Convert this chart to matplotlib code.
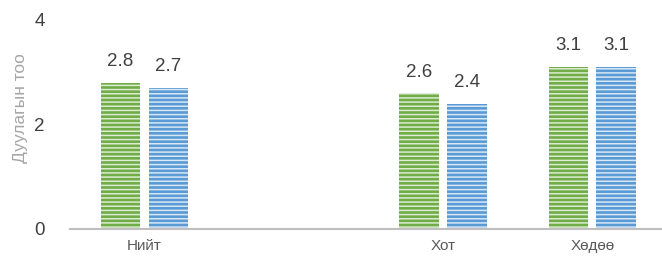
import matplotlib.pyplot as plt
import numpy as np

plt.rcParams['font.family'] = ['Liberation Sans', 'DejaVu Sans']
plt.rcParams['hatch.linewidth'] = 1.1

# data
categories = ['Нийт', '', 'Хот', 'Хөдөө']
series_a = [2.8, np.nan, 2.6, 3.1]
series_b = [2.7, np.nan, 2.4, 3.1]
y_ticks = [0, 2, 4]

fig = plt.figure(figsize=(6.62, 2.59), dpi=100)
ax = fig.add_axes([0.1055, 0.116, 0.902, 0.807])

x = np.arange(len(categories))
w = 0.265
off = 0.16

bars_a = ax.bar(x - off, series_a, w, color='#70AD47', edgecolor='#DCEBD2',
                hatch='----', linewidth=0)
bars_b = ax.bar(x + off, series_b, w, color='#5B9BD5', edgecolor='#D8E7F5',
                hatch='----', linewidth=0)

for bars, vals in [(bars_a, series_a), (bars_b, series_b)]:
    for b, v in zip(bars, vals):
        if np.isnan(v):
            continue
        ax.annotate(f'{v:.1f}', (b.get_x() + b.get_width() / 2, v),
                    xytext=(0, 9), textcoords='offset points',
                    ha='center', va='bottom', fontsize=13.5, color='#404040')

ax.set_xlim(-0.5, 3.5)
ax.set_ylim(0, 4)
ax.set_xticks(x)
ax.set_xticklabels(categories, fontsize=11, color='#595959')
ax.set_yticks(y_ticks)
ax.set_yticklabels([str(t) for t in y_ticks], fontsize=13.5, color='#404040')
ax.tick_params(axis='both', length=0)
ax.tick_params(axis='y', pad=18)
ax.tick_params(axis='x', pad=7)

for s in ['top', 'right', 'left']:
    ax.spines[s].set_visible(False)
ax.spines['bottom'].set_color('#BFBFBF')
ax.spines['bottom'].set_linewidth(1.5)

ax.set_ylabel('Дуулагын тоо', fontsize=12.5, color='#A6A6A6')
ax.yaxis.set_label_coords(-0.07, 0.58)

fig.savefig('out.png', dpi=100, facecolor='white')
